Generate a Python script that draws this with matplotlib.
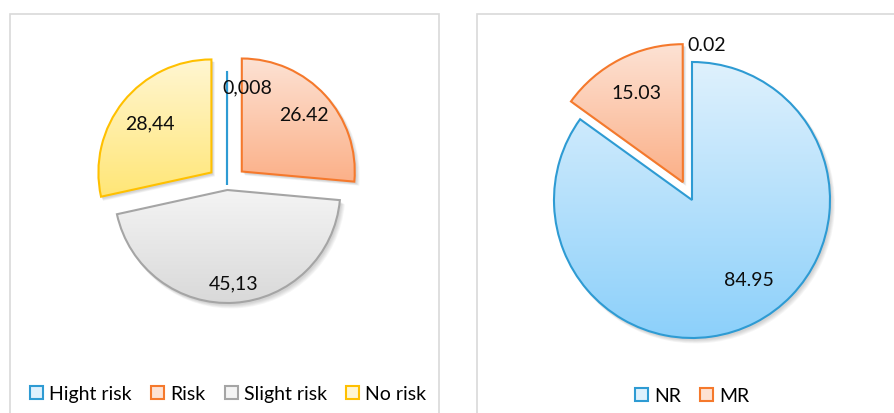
import matplotlib
matplotlib.use('Agg')
import matplotlib.pyplot as plt
import matplotlib.patches as mpatches
from matplotlib.colors import LinearSegmentedColormap
import numpy as np

plt.rcParams['font.family'] = ['Lato', 'DejaVu Sans']

# left chart data
risk_labels = ['Hight risk', 'Risk', 'Slight risk', 'No risk']
risk_values = [0.008, 26.42, 45.13, 28.44]
risk_text = ['0,008', '26.42', '45,13', '28,44']

# right chart data
nm_labels = ['NR', 'MR', '']
nm_values = [84.95, 15.03, 0.02]
nm_text = ['84.95', '15.03', '0.02']

# styles: (top colour, bottom colour, edge colour)
blue = ('#dff1fd', '#8cd0fa', '#2e9bd3')
orange = ('#fde2d4', '#fbb088', '#f5792c')
grey = ('#f4f4f4', '#d9d9d9', '#a5a5a5')
yellow = ('#fff6d2', '#ffe676', '#ffc000')
risk_styles = [blue, orange, grey, yellow]
nm_styles = [blue, orange, None]

H = 414
FS = 14
fig = plt.figure(figsize=(8.95, 4.14), dpi=100)
ax = fig.add_axes([0, 0, 1, 1])


def draw_pie(values, styles, center, radius, explode):
    wedges, _ = ax.pie(values, center=center, radius=radius, startangle=90,
                       counterclock=False, explode=explode, normalize=True,
                       wedgeprops=dict(linewidth=1.5))
    for w, st in zip(wedges, styles):
        if st is None:
            w.set_facecolor('none')
            w.set_edgecolor('none')
            continue
        top, bot, edge = st
        w.set_facecolor('none')
        w.set_edgecolor(edge)
        w.set_zorder(3)
        # soft shadow
        for k in range(1, 6):
            sh = mpatches.Wedge((w.center[0] + 1.0 + 0.5 * k, w.center[1] - 1.5 - 0.5 * k),
                                w.r + 0.3 * k, w.theta1, w.theta2,
                                facecolor='k', alpha=0.035, lw=0, zorder=1)
            ax.add_patch(sh)
        bb = w.get_path().get_extents()
        cmap = LinearSegmentedColormap.from_list('g', [top, bot])
        im = ax.imshow(np.linspace(0, 1, 256).reshape(-1, 1), cmap=cmap,
                       extent=(bb.x0, bb.x1, bb.y0, bb.y1), origin='upper',
                       aspect='auto', zorder=2)
        im.set_clip_path(w)
    return wedges


def put_labels(wedges, texts, place):
    for w, t, (frac, dx, dy) in zip(wedges, texts, place):
        th = np.deg2rad((w.theta1 + w.theta2) / 2)
        x = w.center[0] + w.r * frac * np.cos(th) + dx
        y = w.center[1] + w.r * frac * np.sin(th) + dy
        ax.text(x, y, t, ha='center', va='center', fontsize=FS, color='#0d0d0d', zorder=5)


# frames
for x0, x1 in [(10, 439), (477, 905)]:
    ax.add_patch(mpatches.Rectangle((x0, -10), x1 - x0, H - 15 + 10, fill=False,
                                    edgecolor='#d9d9d9', lw=1.2, zorder=0))

lw = draw_pie(risk_values, risk_styles, (227, H - 186), 113, [0, 20, 5, 20])
put_labels(lw, risk_text, [(0.87, 20, 0), (0.75, 0, 0), (0.82, 0, 0), (0.70, 0, 0)])

rw = draw_pie(nm_values, nm_styles, (692, H - 201), 138, [0, 20, 20])
put_labels(rw, nm_text, [(0.70, 13, 7), (0.73, 0, 0), (0.98, 15, 0)])

ax.set_xlim(0, 895)
ax.set_ylim(0, H)
ax.set_aspect('equal')
ax.axis('off')


def handles(labels, styles):
    return [mpatches.Patch(facecolor=st[0], edgecolor=st[2], lw=1.5, label=lb)
            for lb, st in zip(labels, styles) if st is not None]


leg_kw = dict(loc='center', frameon=False, fontsize=FS, handlelength=0.68,
              handleheight=0.68, handletextpad=0.3, columnspacing=1.0,
              bbox_transform=ax.transData)
leg1 = ax.legend(handles=handles(risk_labels, risk_styles), ncol=4,
                 bbox_to_anchor=(228, H - 395), **leg_kw)
ax.add_artist(leg1)
ax.legend(handles=handles(nm_labels, nm_styles), ncol=2,
          bbox_to_anchor=(692, H - 397), **leg_kw)

fig.savefig('out.png', dpi=100)
